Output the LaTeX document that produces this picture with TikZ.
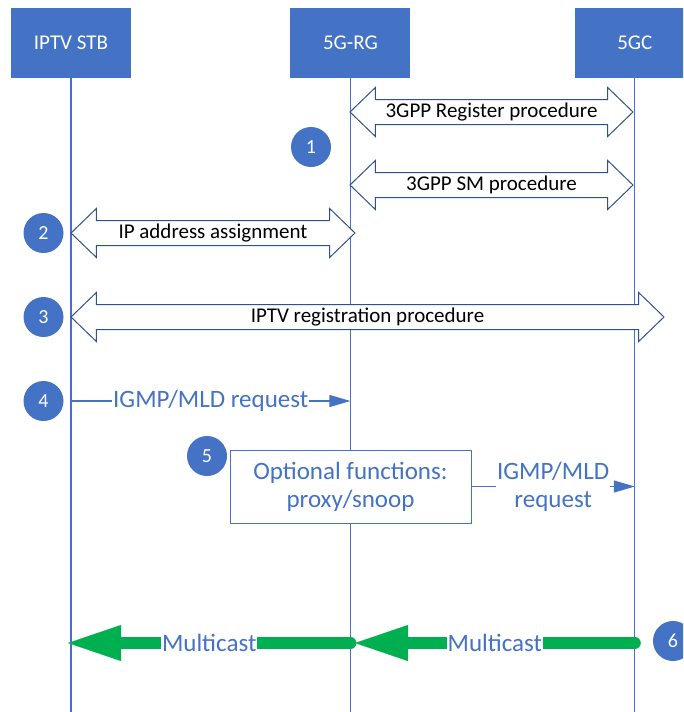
\documentclass[tikz,border=0pt]{standalone}
\usepackage{fontspec}
\setmainfont{Carlito}
\usetikzlibrary{positioning, arrows.meta, shapes.arrows}

\definecolor{office}{RGB}{68,114,196}
\definecolor{outline}{RGB}{47,82,143}
\definecolor{mgreen}{RGB}{0,176,80}

\tikzset{
	entity/.style={rectangle, fill=office, text=white, minimum width=120pt, minimum height=70pt, font=\fontsize{21}{25}\selectfont},
	lifeline/.style={draw=office, line width=1.3pt},
	num/.style={circle, fill=office, text=white, minimum size=40pt, inner sep=0pt, font=\fontsize{20}{24}\selectfont},
	proc/.style={double arrow, draw=outline, fill=white, line width=1pt, double arrow head extend=12pt, double arrow tip angle=88, inner xsep=0pt, inner ysep=3pt, text height=14pt, text depth=4pt, font=\fontsize{21}{25}\selectfont},
	msg/.style={draw=office, line width=1.2pt, -{Triangle[length=21pt,width=12pt]}},
	msglabel/.style={fill=white, text=office, inner xsep=1pt, inner ysep=0pt, font=\fontsize{25}{28}\selectfont, align=center},
	mcast/.style={draw=mgreen, line width=12pt, line cap=round, -{Triangle[length=53pt,width=36pt,line width=0.1pt]}},
}

\begin{document}
\begin{tikzpicture}[x=1pt, y=-1pt]
\clip (0,0) rectangle (683,712);

\node[entity] (stb) at (71,43) {IPTV STB};
\node[entity, right=159pt of stb] (rg) {5G-RG};
\node[entity, right=164pt of rg] (core) {5GC};

\draw[lifeline] (stb) -- (stb |- 0,712);
\draw[lifeline] (rg) -- (rg |- 0,712);
\draw[lifeline] (core) -- (core |- 0,712);

% 1
\node[proc, minimum height=283pt] (reg) at (491.5,112) {3GPP Register procedure};
\node[proc, minimum height=283pt] (sm) at (491.5,185) {3GPP SM procedure};
\node[num] (n1) at (311,147) {1};

% 2, 3
\node[proc, minimum height=284pt] (ipa) at (213,233) {IP address assignment};
\node[num] (n2) at (43.5,233) {2};
\node[proc, minimum height=593pt] (iptv) at (367.5,317) {IPTV registration procedure};
\node[num] (n3) at (43.5,317) {3};

% 4
\node[num] (n4) at (43.5,401) {4};
\coordinate (m4s) at (stb |- 0,401);
\coordinate (m4e) at (rg |- 0,401);
\draw[msg] (m4s) -- node[msglabel] {IGMP/MLD request} (m4e);

% 5
\node[num] (n5) at (207,456) {5};
\node[draw=office, fill=white, line width=1pt, minimum width=241pt, minimum height=73pt, text=office, align=center, font=\fontsize{25}{28}\selectfont] (opt) at (350.5,486.5) {Optional functions:\\proxy/snoop};
\coordinate (m5e) at (core |- opt);
\draw[msg] (opt) -- node[msglabel] {IGMP/MLD\\request} (m5e);

% 6
\coordinate (g1s) at (rg |- 0,643);
\coordinate (g1e) at (68,643);
\coordinate (g2s) at (core |- 0,643);
\coordinate (g2e) at (355,643);
\draw[mcast] (g1s) -- node[msglabel] {Multicast} (g1e);
\draw[mcast] (g2s) -- node[msglabel] {Multicast} (g2e);
\node[num] (n6) at (673,641) {6};

\end{tikzpicture}
\end{document}
